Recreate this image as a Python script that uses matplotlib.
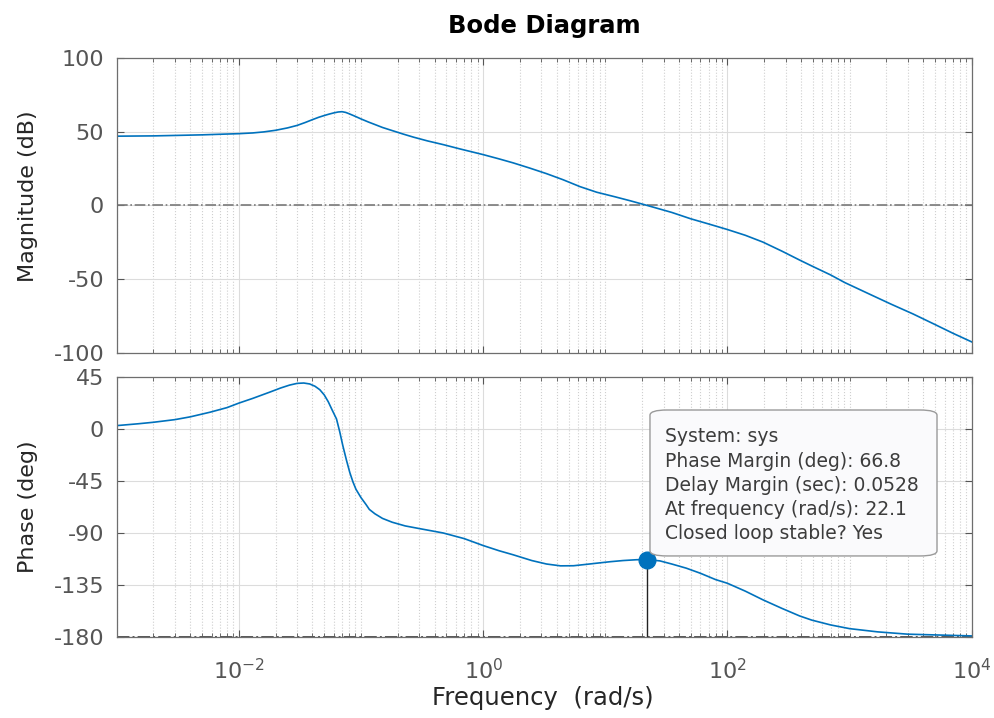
import numpy as np
import matplotlib.pyplot as plt
from matplotlib.ticker import LogLocator, FixedLocator, NullFormatter
from matplotlib.patches import FancyBboxPatch

plt.rcParams['font.family'] = ['DejaVu Sans']
plt.rcParams['axes.unicode_minus'] = False

# open-loop frequency response
mag_freq = [0.001, 0.002, 0.003, 0.005, 0.007, 0.01, 0.013, 0.016, 0.02, 0.025,
            0.03, 0.035, 0.04, 0.045, 0.05, 0.055, 0.06, 0.065, 0.07, 0.075,
            0.08, 0.09, 0.1, 0.115, 0.13, 0.15, 0.18, 0.22, 0.27, 0.35,
            0.47, 0.65, 1.0, 1.35, 1.76, 2.4, 3.3, 4.5, 6.2, 8.5,
            12.0, 16.0, 22.1, 35.0, 50.0, 70.0, 100.0, 140.0, 195.0, 280.0,
            390.0, 490.0, 700.0, 910.0, 1500.0, 2200.0, 3300.0, 5000.0, 7000.0, 10000.0]
mag_db = [47.0, 47.2, 47.5, 47.9, 48.3, 48.7, 49.2, 49.9, 51.0, 52.6,
          54.3, 56.3, 58.2, 59.8, 61.0, 62.0, 62.8, 63.4, 63.6, 63.1,
          62.2, 60.4, 58.7, 56.6, 54.9, 52.9, 50.8, 48.5, 46.3, 43.8,
          41.3, 38.3, 34.5, 31.6, 28.9, 25.4, 21.6, 17.5, 12.8, 9.0,
          5.9, 3.2, 0.0, -4.7, -9.0, -12.5, -16.3, -20.2, -24.8, -31.0,
          -37.0, -41.0, -47.1, -52.2, -60.6, -67.0, -73.5, -80.7, -86.6, -92.5]

phase_freq = [0.001, 0.0015, 0.002, 0.003, 0.004, 0.0058, 0.008, 0.01, 0.013, 0.018,
              0.022, 0.026, 0.03, 0.034, 0.038, 0.042, 0.046, 0.05, 0.054, 0.058,
              0.063, 0.067, 0.071, 0.076, 0.081, 0.086, 0.091, 0.1, 0.11, 0.117,
              0.13, 0.15, 0.18, 0.23, 0.3, 0.47, 0.7, 1.0, 1.35, 1.76,
              2.5, 3.3, 4.3, 5.5, 7.0, 8.5, 11.0, 14.0, 18.0, 22.1,
              28.0, 35.0, 46.0, 60.0, 80.0, 100.0, 140.0, 195.0, 280.0, 390.0,
              490.0, 700.0, 1000.0, 1700.0, 3000.0, 10000.0]
phase_deg = [2.9, 4.5, 5.8, 8.1, 10.5, 14.5, 18.5, 22.4, 26.5, 32.0,
             35.5, 38.0, 39.5, 39.8, 39.0, 37.0, 34.0, 29.5, 23.5, 16.5,
             8.7, -2.5, -14.5, -27.0, -37.8, -46.0, -52.3, -59.5, -65.5, -69.7,
             -73.5, -77.5, -80.8, -84.0, -86.3, -90.1, -95.0, -101.0, -105.5, -109.0,
             -114.0, -117.0, -118.6, -118.5, -117.3, -116.3, -115.0, -114.0, -113.3, -113.2,
             -114.3, -117.0, -120.6, -125.0, -130.5, -133.7, -140.5, -148.0, -155.5, -162.0,
             -165.6, -169.8, -173.0, -175.8, -177.8, -179.3]

# stability margins
phase_margin = 66.8
delay_margin = 0.0528
crossover_freq = 22.1

freq_ticks = [1e-2, 1e0, 1e2, 1e4]
mag_ticks = [-100, -50, 0, 50, 100]
phase_ticks = [-180, -135, -90, -45, 0, 45]

line_color = '#0072BD'
tick_color = '#555555'

fig = plt.figure(figsize=(9.95, 7.18), dpi=100)
ax_mag = fig.add_axes([0.1173, 0.5084, 0.8593, 0.4108])
ax_ph = fig.add_axes([0.1173, 0.1132, 0.8593, 0.3617])

for ax in (ax_mag, ax_ph):
    ax.set_xscale('log')
    ax.set_xlim(1e-3, 1e4)
    ax.xaxis.set_major_locator(FixedLocator(freq_ticks))
    ax.xaxis.set_minor_locator(LogLocator(base=10, subs=np.arange(1, 10), numticks=100))
    ax.xaxis.set_minor_formatter(NullFormatter())
    ax.tick_params(which='both', direction='in', top=True, right=True,
                   colors=tick_color, labelsize=16)
    ax.tick_params(which='major', length=5, width=0.8)
    ax.tick_params(which='minor', length=3, width=0.6)
    ax.tick_params(axis='y', pad=9)
    ax.tick_params(axis='x', pad=15)
    ax.grid(True, which='major', color='#dcdcdc', linewidth=0.8)
    ax.grid(True, which='minor', axis='x', color='#cfcfcf', linestyle=':', linewidth=0.8)
    ax.set_axisbelow(True)
    for sp in ax.spines.values():
        sp.set_color('#6e6e6e')
        sp.set_linewidth(0.9)

# magnitude
ax_mag.axhline(0, color='#7a7a7a', linestyle='-.', linewidth=1.2)
ax_mag.plot(mag_freq, mag_db, color=line_color, linewidth=1.2)
ax_mag.set_ylim(-100, 100)
ax_mag.yaxis.set_major_locator(FixedLocator(mag_ticks))
ax_mag.tick_params(axis='x', labelbottom=False)
ax_mag.set_ylabel('Magnitude (dB)', fontsize=16, color='#262626')
ax_mag.yaxis.set_label_coords(-0.092, 0.53)

# phase
ax_ph.axhline(-180, color='#555555', linestyle='-.', linewidth=1.4)
ax_ph.plot(phase_freq, phase_deg, color=line_color, linewidth=1.2)
ax_ph.set_ylim(-180, 45)
ax_ph.yaxis.set_major_locator(FixedLocator(phase_ticks))
ax_ph.set_ylabel('Phase (deg)', fontsize=16, color='#262626')
ax_ph.yaxis.set_label_coords(-0.092, 0.5)

pm_phase = -180 + phase_margin
ax_ph.plot([crossover_freq, crossover_freq], [-180, pm_phase], color='#222222', linewidth=1.0)
ax_ph.plot(crossover_freq, pm_phase, 'o', color=line_color, markersize=12, zorder=5)

# data tip
box = FancyBboxPatch((0.6237, 0.311), 0.3357, 0.562, transform=ax_ph.transAxes,
                     boxstyle='round,pad=0,rounding_size=0.02',
                     facecolor='#fafafc', edgecolor='#9a9a9a', linewidth=1.0, zorder=6)
ax_ph.add_patch(box)
tip_lines = ['System: sys',
             f'Phase Margin (deg): {phase_margin}',
             f'Delay Margin (sec): {delay_margin}',
             f'At frequency (rad/s): {crossover_freq}',
             'Closed loop stable? Yes']
for i, s in enumerate(tip_lines):
    ax_ph.text(0.6415, 0.770 - i * 0.0936, s, transform=ax_ph.transAxes,
               fontsize=13.5, color='#3c3c3c', va='center', ha='left', zorder=7)

fig.text(0.5467, 0.954, 'Bode Diagram', ha='center', va='baseline',
         fontsize=17.5, fontweight='bold', color='black')
fig.text(0.5452, 0.018, 'Frequency  (rad/s)', ha='center', va='baseline',
         fontsize=17.5, color='#262626')

fig.savefig('out.png', dpi=100)
